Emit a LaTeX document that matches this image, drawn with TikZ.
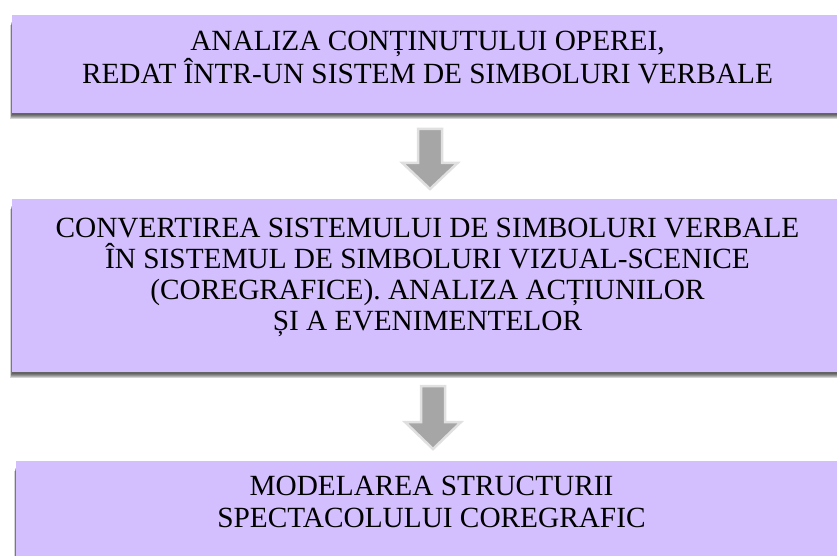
\documentclass[tikz,border=0pt]{standalone}
\usepackage{fontspec}
\setmainfont{Liberation Serif}
\pgfdeclarelayer{bg}
\pgfsetlayers{bg,main}
\definecolor{boxfill}{RGB}{212,191,254}
\definecolor{arrowfill}{RGB}{166,166,166}
\definecolor{arrowedge}{RGB}{224,224,224}
\tikzset{
  stagebox/.style={rectangle, fill=boxfill, inner sep=0pt, align=center,
    minimum width=831pt, font=\fontsize{29.3}{31.3}\selectfont, text=black},
  softshadow/.style={fill=black, opacity=0.17},
  blockarrow/.style={fill=arrowfill, draw=arrowedge, line width=2.5pt, line join=miter}
}
\begin{document}
\begin{tikzpicture}[x=1pt,y=1pt]
\useasboundingbox (0,0) rectangle (837,555);
\clip (0,0) rectangle (837,555);

\node[stagebox, minimum height=98pt, text height=51.3pt, text depth=13pt] (b1) at (427.5,491)
  {ANALIZA CONȚINUTULUI OPEREI,\\REDAT ÎNTR-UN SISTEM DE SIMBOLURI VERBALE};
\node[stagebox, minimum height=173pt, text height=113.9pt, text depth=23pt] (b2) at (427.5,269.5)
  {CONVERTIREA SISTEMULUI DE SIMBOLURI VERBALE\\ÎN SISTEMUL DE SIMBOLURI VIZUAL-SCENICE\\(COREGRAFICE). ANALIZA ACȚIUNILOR\\ȘI A EVENIMENTELOR};
\node[stagebox, minimum height=98pt, text height=51.3pt, text depth=17.3pt] (b3) at (431.5,45)
  {MODELAREA STRUCTURII\\SPECTACOLULUI COREGRAFIC};

\begin{pgfonlayer}{bg}
  \fill[white] (0,0) rectangle (837,555);
  \foreach \b in {b1,b2,b3}{
    \foreach \k in {0,1,2,3,4}{
      \fill[softshadow] ([shift={(-0.4*\k,-1.5-\k)}]\b.south west) rectangle ([shift={(\k,-6-\k)}]\b.north east);
    }
  }
\end{pgfonlayer}

% block arrows
\draw[blockarrow] (418,426) -- (442,426) -- (442,392) -- (457.5,392) -- (430,366)
  -- (402.5,392) -- (418,392) -- cycle;
\draw[blockarrow] (421,169) -- (445,169) -- (445,133) -- (461,133) -- (433,106)
  -- (405,133) -- (421,133) -- cycle;
\end{tikzpicture}
\end{document}
